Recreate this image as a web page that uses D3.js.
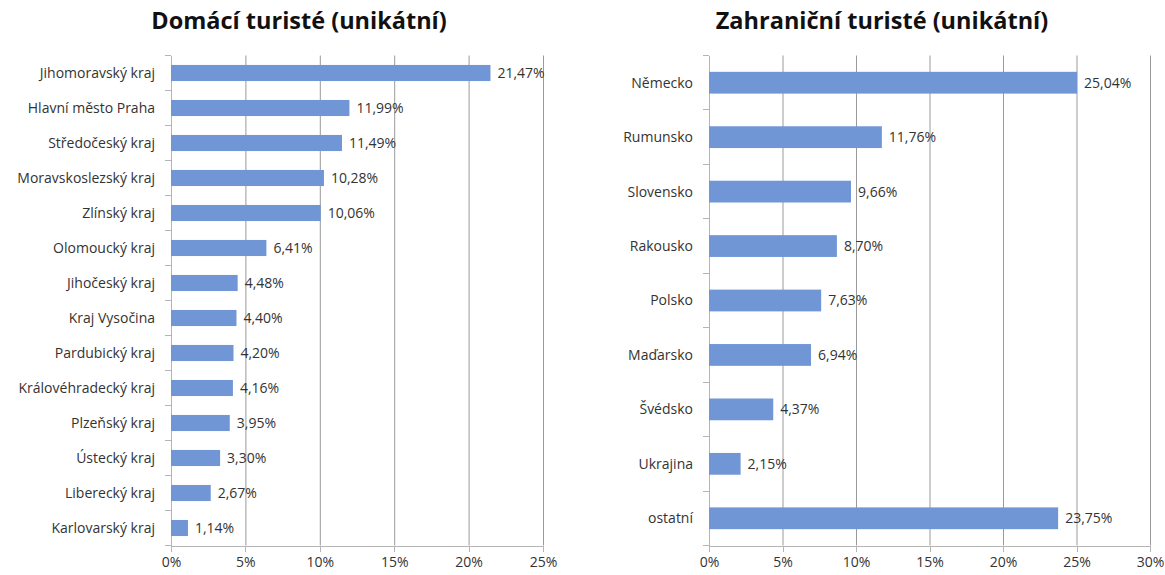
<!DOCTYPE html>
<html>
<head>
  <meta charset="utf-8">
  <title>Domácí a zahraniční turisté</title>
  <script src="https://d3js.org/d3.v7.min.js"></script>
  <style>
    body { margin: 0; background: #fff; font-family: "Open Sans", sans-serif; }
    .title { font-size: 23.5px; font-weight: bold; text-anchor: middle; fill: #111; }
    .bar { fill: #7096d6; }
    .grid line { stroke: #9a9a9a; stroke-width: 1; }
    .grid path { display: none; }
    .axis path, .axis line { stroke: #b5b5b5; shape-rendering: crispEdges; }
    .axis text { font-size: 14px; fill: #333; font-family: "Open Sans", sans-serif; }
    .val { font-size: 14px; fill: #333; }
  </style>
</head>
<body>
  <svg id="chart" width="1165" height="575"></svg>
  <script>
    // domácí turisté
    const domCategories = ["Jihomoravský kraj", "Hlavní město Praha", "Středočeský kraj", "Moravskoslezský kraj",
      "Zlínský kraj", "Olomoucký kraj", "Jihočeský kraj", "Kraj Vysočina", "Pardubický kraj",
      "Královéhradecký kraj", "Plzeňský kraj", "Ústecký kraj", "Liberecký kraj", "Karlovarský kraj"];
    const domValues = [21.47, 11.99, 11.49, 10.28, 10.06, 6.41, 4.48, 4.40, 4.20, 4.16, 3.95, 3.30, 2.67, 1.14];
    const domTicks = [0, 5, 10, 15, 20, 25];

    // zahraniční turisté
    const zahrCategories = ["Německo", "Rumunsko", "Slovensko", "Rakousko", "Polsko", "Maďarsko", "Švédsko", "Ukrajina", "ostatní"];
    const zahrValues = [25.04, 11.76, 9.66, 8.70, 7.63, 6.94, 4.37, 2.15, 23.75];
    const zahrTicks = [0, 5, 10, 15, 20, 25, 30];

    const svg = d3.select("#chart");
    const fmt = v => d3.format(".2f")(v).replace(".", ",") + "%";

    function drawPanel(cfg) {
      const x = d3.scaleLinear()
        .domain([0, d3.max(cfg.ticks)])
        .range([cfg.left, cfg.right]);
      const y = d3.scaleBand()
        .domain(cfg.categories)
        .range([cfg.top, cfg.bottom])
        .paddingInner(cfg.pad)
        .paddingOuter(cfg.pad / 2);

      svg.append("text")
        .attr("class", "title")
        .attr("x", cfg.titleX)
        .attr("y", 29)
        .text(cfg.title);

      // vertical gridlines
      svg.append("g")
        .attr("class", "grid")
        .attr("transform", `translate(0,${cfg.bottom})`)
        .call(d3.axisBottom(x).tickValues(cfg.ticks.slice(1)).tickSize(-(cfg.bottom - cfg.top)).tickFormat(""));

      // y axis with ticks between categories
      const yAxis = svg.append("g")
        .attr("class", "axis")
        .attr("transform", `translate(${cfg.left},0)`);
      yAxis.append("line")
        .attr("y1", cfg.top).attr("y2", cfg.bottom);
      const step = (cfg.bottom - cfg.top) / cfg.categories.length;
      yAxis.selectAll(".yt")
        .data(d3.range(cfg.categories.length + 1))
        .enter().append("line")
          .attr("x1", -6).attr("x2", 0)
          .attr("y1", i => cfg.top + i * step)
          .attr("y2", i => cfg.top + i * step);
      yAxis.selectAll(".ylab")
        .data(cfg.categories)
        .enter().append("text")
          .attr("x", -16)
          .attr("y", d => y(d) + y.bandwidth() / 2)
          .attr("dy", "0.35em")
          .attr("text-anchor", "end")
          .text(d => d);

      // x axis
      svg.append("g")
        .attr("class", "axis")
        .attr("transform", `translate(0,${cfg.bottom})`)
        .call(d3.axisBottom(x).tickValues(cfg.ticks).tickSize(6).tickPadding(6).tickFormat(d => d + "%"));

      svg.selectAll(null)
        .data(cfg.values)
        .enter().append("rect")
          .attr("class", "bar")
          .attr("x", x(0))
          .attr("y", (d, i) => y(cfg.categories[i]))
          .attr("width", d => x(d) - x(0))
          .attr("height", y.bandwidth());

      svg.selectAll(null)
        .data(cfg.values)
        .enter().append("text")
          .attr("class", "val")
          .attr("x", d => x(d) + 7)
          .attr("y", (d, i) => y(cfg.categories[i]) + y.bandwidth() / 2)
          .attr("dy", "0.35em")
          .text(fmt);
    }

    drawPanel({
      title: "Domácí turisté (unikátní)", titleX: 299,
      categories: domCategories, values: domValues, ticks: domTicks,
      left: 171, right: 543, top: 55.5, bottom: 545.5, pad: 0.54
    });

    drawPanel({
      title: "Zahraniční turisté (unikátní)", titleX: 882,
      categories: zahrCategories, values: zahrValues, ticks: zahrTicks,
      left: 709, right: 1150, top: 55.5, bottom: 545.5, pad: 0.6
    });
  </script>
</body>
</html>
